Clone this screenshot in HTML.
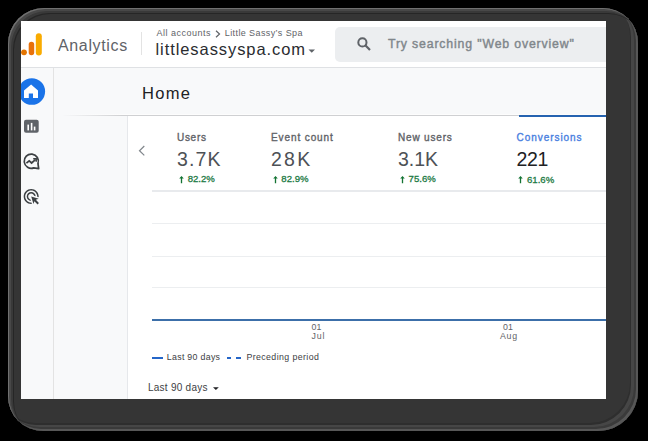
<!DOCTYPE html>
<html><head><meta charset="utf-8">
<style>
*{margin:0;padding:0;box-sizing:border-box}
html,body{width:648px;height:441px;overflow:hidden;background:#000;font-family:"Liberation Sans",sans-serif}
.frame{position:absolute;left:8px;top:8px;width:630px;height:423px;border-radius:36px 35px 40px 35px;background:#353535;box-shadow:inset 1px 1px 0 #707070,inset 3px 3px 0 #484848,inset 5px 5px 0 #393939,inset 6px 6px 0 #262626,inset -2px -2px 0 #575757,inset -4px -4px 0 #3a3a3a,inset -7px -6px 0 #464646,inset -8px -8px 0 #2e2e2e}
.screen{position:absolute;left:21px;top:21px;width:585px;height:378px;background:#fff;overflow:hidden}
.a{position:absolute;white-space:nowrap}
</style></head><body>
<div class="frame"></div>
<div class="screen">
  <!-- header (coordinates relative to screen: subtract 21) -->
  <div class="a" style="left:0;top:0;width:585px;height:47px;background:#fff;border-bottom:1px solid #dfe1e4"></div>
  <!-- logo -->
  <svg class="a" style="left:-21px;top:-21px" width="80" height="80" viewBox="0 0 80 80">
    <circle cx="24" cy="52.3" r="2.9" fill="#e37400"/>
    <rect x="28.7" y="41.8" width="5.5" height="13.5" rx="2.75" fill="#e8710a"/>
    <rect x="35.8" y="33.2" width="6" height="22.3" rx="3" fill="#f9ab00"/>
  </svg>
  <div class="a" style="left:37px;top:15.7px;font-size:16px;letter-spacing:0.65px;color:#5f6368">Analytics</div>
  <div class="a" style="left:120px;top:11px;width:1px;height:23px;background:#e3e3e3"></div>
  <div class="a" style="left:135.5px;top:7px;font-size:9px;letter-spacing:0.5px;color:#5f6368">All accounts</div>
  <svg class="a" style="left:194px;top:9px" width="6" height="8" viewBox="0 0 6 8"><path d="M1 0.8 L4.5 4 L1 7.2" fill="none" stroke="#5f6368" stroke-width="1.2"/></svg>
  <div class="a" style="left:203.8px;top:7px;font-size:9px;letter-spacing:0.4px;color:#5f6368">Little Sassy&#8217;s Spa</div>
  <div class="a" style="left:134.5px;top:19.2px;font-size:16.5px;letter-spacing:0.92px;color:#2a2c30">littlesassyspa.com</div>
  <svg class="a" style="left:287px;top:28px" width="8" height="5" viewBox="0 0 8 5"><path d="M0.5 0.5 L7 0.5 L3.75 3.8Z" fill="#5f6368"/></svg>
  <!-- search -->
  <div class="a" style="left:314px;top:6px;width:290px;height:34.5px;border-radius:5px;background:#eceef0"></div>
  <svg class="a" style="left:335px;top:15px" width="16" height="16" viewBox="0 0 16 16"><circle cx="6.4" cy="6.4" r="4.1" fill="none" stroke="#5f6368" stroke-width="2"/><path d="M9.3 9.3 L14 14" stroke="#5f6368" stroke-width="2.2"/></svg>
  <div class="a" style="left:367px;top:15.5px;font-size:12.3px;letter-spacing:0.84px;color:#80868b;-webkit-text-stroke:0.4px #80868b">Try searching "Web overview"</div>

  <!-- sidebar + main background -->
  <div class="a" style="left:0;top:47px;width:33px;height:331px;background:#f8f9fa;border-right:1px solid #e3e3e3"></div>
  <div class="a" style="left:33px;top:47px;width:552px;height:331px;background:#f8f9fa"></div>
  <!-- nav icons -->
  <svg class="a" style="left:-21px;top:-21px" width="60" height="240" viewBox="0 0 60 240">
    <circle cx="31.8" cy="91.5" r="13.3" fill="#1a73e8"/>
    <path d="M31.1 84.6 L38 90.6 L38 98 L33 98 L33 93.4 L28.8 93.4 L28.8 98 L24 98 L24 90.6 Z" fill="#fff"/>
    <rect x="24" y="119.8" width="14.7" height="13" rx="2" fill="#5f6368"/>
    <rect x="27.4" y="124.6" width="1.6" height="5.8" fill="#fff"/>
    <rect x="30.8" y="122.9" width="1.6" height="7.5" fill="#fff"/>
    <rect x="33.8" y="126.6" width="1.6" height="3.8" fill="#fff"/>
    <path d="M33.73 167.87 A7.1 7.1 0 1 1 37.97 163.63 L38.7 168.6 Z" fill="none" stroke="#3c4043" stroke-width="1.7" stroke-linejoin="round"/>
    <path d="M26.4 163.2 L29.2 160.8 L31.6 163 L35.4 159.6" fill="none" stroke="#3c4043" stroke-width="1.7"/>
    <path d="M33.2 158.8 L36.2 158.8 L36.2 161.8" fill="none" stroke="#3c4043" stroke-width="1.5"/>
    <g transform="translate(22.2 187.5) scale(0.75)"><path d="M11.71,17.99C8.53,17.84,6,15.22,6,12c0-3.31,2.69-6,6-6c3.22,0,5.84,2.53,5.99,5.71l-2.1-0.63C15.480,9.31,13.89,8,12,8c-2.21,0-4,1.79-4,4c0,1.89,1.31,3.47,3.08,3.89L11.71,17.99z M22,12c0,0.3-0.01,0.6-0.04,0.9l-1.970-0.59C20,12.21,20,12.1,20,12c0-4.42-3.58-8-8-8s-8,3.58-8,8s3.58,8,8,8c0.1,0,0.21,0,0.31-0.01l0.59,1.97C12.6,21.99,12.3,22,12,22C6.48,22,2,17.52,2,12C2,6.48,6.48,2,12,2S22,6.48,22,12z M18.23,16.26L22,15l-10-3l3,10l1.26-3.77l4.27,4.27l1.74-1.74L18.23,16.26z" fill="#3c4043"/></g>
  </svg>
  <!-- Home title -->
  <div class="a" style="left:121.3px;top:63.6px;font-size:15.6px;letter-spacing:1.2px;transform:scaleX(1.06);transform-origin:0 0;color:#202124">Home</div>
  <!-- shadow line -->
  <div class="a" style="left:41px;top:92.5px;width:544px;height:1px;background:linear-gradient(90deg,rgba(255,255,255,0),#fdfdfd 60px,#fdfdfd)"></div>
  <div class="a" style="left:41px;top:93.6px;width:544px;height:1.4px;background:linear-gradient(90deg,rgba(205,207,209,0),#cfd0d2 60px,#cfd0d2)"></div>
  <!-- card -->
  <div class="a" style="left:106px;top:95px;width:480px;height:290px;background:#fff;border-left:1px solid #e6e8eb"></div>
  <!-- selected tab bar -->
  <div class="a" style="left:497.5px;top:93.7px;width:90px;height:2px;background:#2563b0"></div>
  <!-- chevron -->
  <svg class="a" style="left:117px;top:124px" width="8" height="12" viewBox="0 0 8 12"><path d="M6.3 1 L1.5 5.7 L6.3 10.4" fill="none" stroke="#80868b" stroke-width="1.2"/></svg>

  <!-- metrics -->
  <div class="a" style="left:156px;top:111.2px;font-size:10px;letter-spacing:0.7px;color:#5f6368;-webkit-text-stroke:0.35px #5f6368">Users</div>
  <div class="a" style="left:156px;top:127px;font-size:19.5px;letter-spacing:1.17px;color:#4d5156">3.7K</div>
  <svg class="a" style="left:158px;top:154.5px" width="5" height="8" viewBox="0 0 5 8"><path d="M2.5 0 L4.8 2.6 L3.15 2.6 L3.15 7.2 L1.85 7.2 L1.85 2.6 L0.2 2.6 Z" fill="#137333"/></svg>
  <div class="a" style="left:166.7px;top:152.1px;font-size:9.6px;color:#1e7b45;-webkit-text-stroke:0.3px #1e7b45">82.2%</div>

  <div class="a" style="left:250px;top:111.2px;font-size:10px;letter-spacing:0.9px;color:#5f6368;-webkit-text-stroke:0.35px #5f6368">Event count</div>
  <div class="a" style="left:250px;top:127px;font-size:19.5px;letter-spacing:2.25px;color:#4d5156">28K</div>
  <svg class="a" style="left:252px;top:154.5px" width="5" height="8" viewBox="0 0 5 8"><path d="M2.5 0 L4.8 2.6 L3.15 2.6 L3.15 7.2 L1.85 7.2 L1.85 2.6 L0.2 2.6 Z" fill="#137333"/></svg>
  <div class="a" style="left:260.3px;top:152.1px;font-size:9.6px;color:#1e7b45;-webkit-text-stroke:0.3px #1e7b45">82.9%</div>

  <div class="a" style="left:377px;top:111.2px;font-size:10px;letter-spacing:0.82px;color:#5f6368;-webkit-text-stroke:0.35px #5f6368">New users</div>
  <div class="a" style="left:377px;top:127px;font-size:19.5px;letter-spacing:0px;color:#4d5156">3.1K</div>
  <svg class="a" style="left:379.2px;top:154.5px" width="5" height="8" viewBox="0 0 5 8"><path d="M2.5 0 L4.8 2.6 L3.15 2.6 L3.15 7.2 L1.85 7.2 L1.85 2.6 L0.2 2.6 Z" fill="#137333"/></svg>
  <div class="a" style="left:387.6px;top:152.1px;font-size:9.6px;color:#1e7b45;-webkit-text-stroke:0.3px #1e7b45">75.6%</div>

  <div class="a" style="left:495.5px;top:111.2px;font-size:10px;letter-spacing:0.95px;color:#4a80e0;-webkit-text-stroke:0.35px #4a80e0">Conversions</div>
  <div class="a" style="left:495.5px;top:127px;font-size:19.5px;letter-spacing:-0.35px;color:#202124">221</div>
  <svg class="a" style="left:497.1px;top:155.2px" width="5" height="8" viewBox="0 0 5 8"><path d="M2.5 0 L4.8 2.6 L3.15 2.6 L3.15 7.2 L1.85 7.2 L1.85 2.6 L0.2 2.6 Z" fill="#137333"/></svg>
  <div class="a" style="left:506px;top:152.6px;font-size:9.6px;color:#1e7b45;-webkit-text-stroke:0.3px #1e7b45">61.6%</div>

  <!-- chart grid -->
  <div class="a" style="left:131px;top:169px;width:454px;height:1.5px;background:#e8eaed"></div>
  <div class="a" style="left:131px;top:202px;width:454px;height:1px;background:#eceef0"></div>
  <div class="a" style="left:131px;top:235px;width:454px;height:1px;background:#eceef0"></div>
  <div class="a" style="left:131px;top:266px;width:454px;height:1px;background:#eceef0"></div>
  <div class="a" style="left:131px;top:297.5px;width:454px;height:2px;background:#3c6fa9"></div>
  <!-- axis labels -->
  <div class="a" style="left:290.5px;top:302px;font-size:8.8px;color:#5f6368;line-height:8.8px">01</div>
  <div class="a" style="left:290.5px;top:311px;font-size:8.8px;color:#5f6368;line-height:8.8px;letter-spacing:0.8px">Jul</div>
  <div class="a" style="left:482px;top:302px;font-size:8.8px;color:#5f6368;line-height:8.8px">01</div>
  <div class="a" style="left:479px;top:311px;font-size:8.8px;color:#5f6368;line-height:8.8px;letter-spacing:0.7px">Aug</div>
  <!-- legend -->
  <div class="a" style="left:131px;top:335.6px;width:11.2px;height:2.2px;background:#2566c8"></div>
  <div class="a" style="left:145.8px;top:331px;font-size:8.8px;letter-spacing:0.3px;color:#3c4043">Last 90 days</div>
  <div class="a" style="left:205.7px;top:335.6px;width:4.6px;height:2.2px;background:#2566c8"></div>
  <div class="a" style="left:215px;top:335.6px;width:4.6px;height:2.2px;background:#2566c8"></div>
  <div class="a" style="left:225.4px;top:331px;font-size:8.8px;letter-spacing:0.4px;color:#3c4043">Preceding period</div>
  <!-- dropdown -->
  <div class="a" style="left:127px;top:361.2px;font-size:10px;letter-spacing:0.25px;color:#3c4043">Last 90 days</div>
  <svg class="a" style="left:191.8px;top:366px" width="7" height="4" viewBox="0 0 7 4"><path d="M0 0.2 L5.8 0.2 L2.9 3.1Z" fill="#202124"/></svg>
</div>
</body></html>
